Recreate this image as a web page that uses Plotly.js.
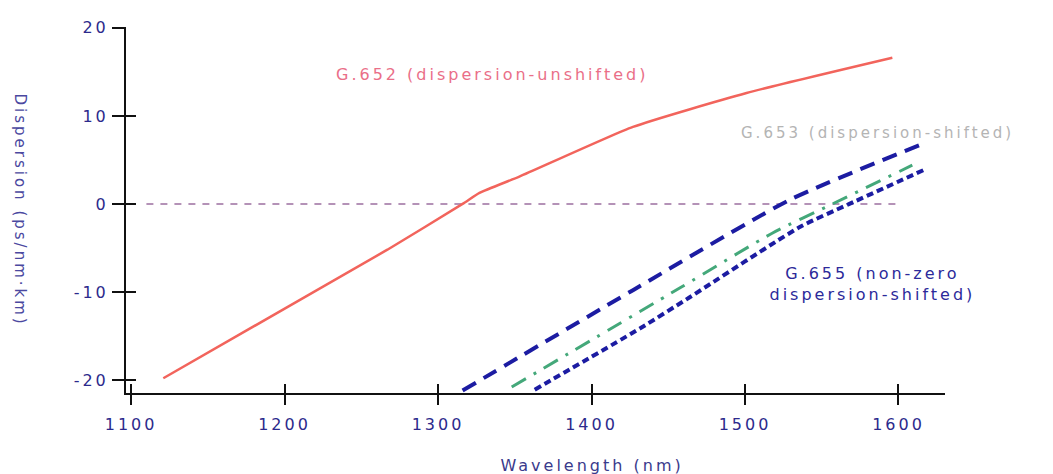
<!DOCTYPE html>
<html>
<head>
<meta charset="utf-8">
<script src="https://cdn.plot.ly/plotly-3.0.1.min.js"></script>
<style>
html,body{margin:0;padding:0;background:#fff;}
#chart{width:1053px;height:474px;}
#chart .annotation-text{letter-spacing:3px;}
#chart .xtick text,#chart .ytick text{letter-spacing:3px;}
</style>
</head>
<body>
<div id="chart"></div>
<script>
// Data
const g652X = [1121, 1267, 1316, 1327, 1353, 1427, 1501, 1596];
const g652Y = [-19.8, -5.2, 0, 1.25, 3.1, 8.75, 12.6, 16.6];

const g655UpperX = [1316, 1427, 1529, 1614];
const g655UpperY = [-21.2, -9.8, 0.45, 6.7];

const g653X = [1348, 1458, 1518, 1557, 1609];
const g653Y = [-20.8, -9.5, -3.3, 0, 4.4];

const g655LowerX = [1363, 1432, 1464, 1536, 1568, 1617];
const g655LowerY = [-21.1, -14.1, -10.6, -2.6, 0, 3.9];

const zeroX = [1110, 1601];
const zeroY = [0, 0];

const xTicks = [1100, 1200, 1300, 1400, 1500, 1600];
const yTicks = [-20, -10, 0, 10, 20];

const labelBlue = '#2c2a8c';
const fontFam = 'DejaVu Sans, Verdana, sans-serif';

const traces = [
  {x: zeroX, y: zeroY, mode: 'lines', line: {color: '#9c6fa0', width: 1.6, dash: '7px,7px'}, hoverinfo: 'skip'},
  {x: g652X, y: g652Y, mode: 'lines', line: {color: '#f2645c', width: 2.5, shape: 'spline', smoothing: 0.5}, name: 'G.652'},
  {x: g655UpperX, y: g655UpperY, mode: 'lines', line: {color: '#1c1ca2', width: 4, dash: '15px,9px', shape: 'spline', smoothing: 0.6}, name: 'G.655 upper'},
  {x: g653X, y: g653Y, mode: 'lines', line: {color: '#44a87a', width: 3, dash: '16px,9px,3px,9px', shape: 'spline', smoothing: 0.6}, name: 'G.653'},
  {x: g655LowerX, y: g655LowerY, mode: 'lines', line: {color: '#1c1ca2', width: 4, dash: '7px,4px', shape: 'spline', smoothing: 0.6}, name: 'G.655 lower'},
  // invisible trace on second axes to draw inward ticks
  {x: [1100], y: [0], xaxis: 'x2', yaxis: 'y2', mode: 'markers', marker: {opacity: 0}, hoverinfo: 'skip'}
];

const xr = [1096.7, 1630.3];
const yr = [-21.48, 20.1];

const layout = {
  width: 1053, height: 474,
  margin: {l: 126, r: 108, t: 27, b: 81},
  paper_bgcolor: '#ffffff', plot_bgcolor: '#ffffff',
  showlegend: false,
  font: {family: fontFam, color: labelBlue},
  xaxis: {
    range: xr, tickvals: xTicks, ticktext: xTicks.map(String),
    showgrid: false, zeroline: false,
    showline: true, linecolor: '#111', linewidth: 2,
    ticks: 'outside', ticklen: 10, tickwidth: 2, tickcolor: '#111',
    tickfont: {family: fontFam, size: 16, color: labelBlue},
    ticklabelstandoff: 6
  },
  yaxis: {
    range: yr, tickvals: yTicks, ticktext: yTicks.map(String),
    showgrid: false, zeroline: false,
    showline: true, linecolor: '#111', linewidth: 2,
    ticks: 'outside', ticklen: 12, tickwidth: 2, tickcolor: '#111',
    tickfont: {family: fontFam, size: 16, color: labelBlue}
  },
  xaxis2: {
    overlaying: 'x', range: xr, tickvals: xTicks, showticklabels: false,
    showgrid: false, zeroline: false, showline: false,
    ticks: 'inside', ticklen: 9, tickwidth: 2, tickcolor: '#111', side: 'bottom'
  },
  yaxis2: {
    overlaying: 'y', range: yr, tickvals: yTicks, showticklabels: false,
    showgrid: false, zeroline: false, showline: false,
    ticks: 'inside', ticklen: 10, tickwidth: 2, tickcolor: '#111', side: 'left'
  },
  annotations: [
    {xref: 'paper', yref: 'paper', x: (592 - 126) / 819, y: (474 - 465 - 81) / 366, xanchor: 'center', yanchor: 'middle',
     text: 'Wavelength (nm)', showarrow: false, font: {family: fontFam, size: 16, color: '#3a3a8c'}},
    {xref: 'paper', yref: 'paper', x: (20 - 126) / 819, y: (474 - 81 - 210) / 366, xanchor: 'center', yanchor: 'middle',
     text: 'Dispersion (ps/nm·km)', textangle: 90, showarrow: false, font: {family: fontFam, size: 15, color: '#4a48a0'}},
    {xref: 'paper', yref: 'paper', x: (492 - 126) / 819, y: (474 - 81 - 74) / 366, xanchor: 'center', yanchor: 'middle',
     text: 'G.652 (dispersion-unshifted)', showarrow: false, font: {family: fontFam, size: 16, color: '#ea6f88'}},
    {xref: 'paper', yref: 'paper', x: (877 - 126) / 819, y: (474 - 81 - 133) / 366, xanchor: 'center', yanchor: 'middle',
     text: 'G.653 (dispersion-shifted)', showarrow: false, font: {family: fontFam, size: 15, color: '#b4b4b4'}},
    {xref: 'paper', yref: 'paper', x: (872 - 126) / 819, y: (474 - 81 - 284) / 366, xanchor: 'center', yanchor: 'middle',
     text: 'G.655 (non-zero<br>dispersion-shifted)', align: 'center', showarrow: false,
     font: {family: fontFam, size: 16, color: '#2c2a9a'}}
  ]
};

Plotly.newPlot('chart', traces, layout, {displayModeBar: false, staticPlot: true});
</script>
</body>
</html>
